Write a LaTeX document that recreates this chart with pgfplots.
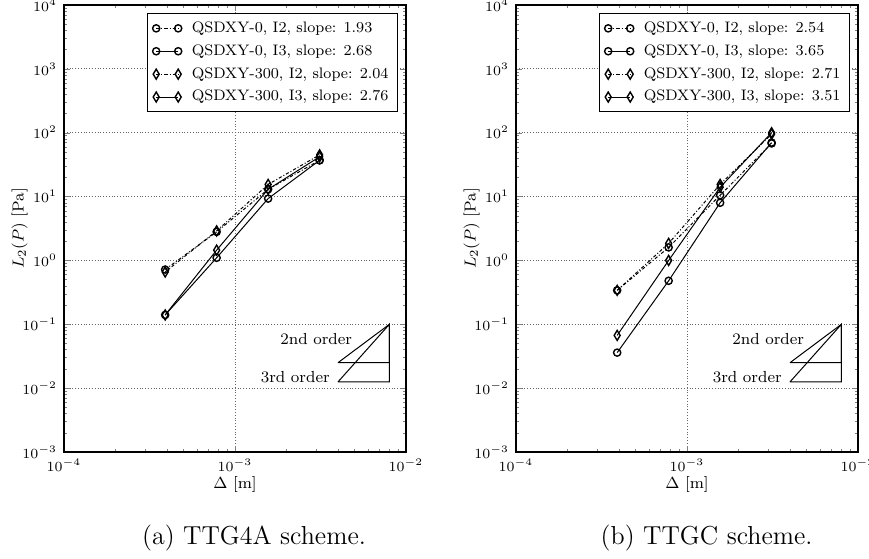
\documentclass[border=0pt]{standalone}
\usepackage{pgfplots}
\pgfplotsset{compat=1.18}

\pgfplotsset{
  legend image code/.code={\draw[mark repeat=2,mark phase=1,#1]
      plot coordinates {(0pt,0pt) (5.5pt,0pt) (11pt,0pt)};},
  conv/.style={
    scale only axis, width=171pt, height=223.5pt,
    xmin=1e-4, xmax=1e-2, ymin=1e-3, ymax=1e4,
    xtick={1e-4,1e-3,1e-2},
    ytick={1e-3,1e-2,1e-1,1,1e1,1e2,1e3,1e4},
    grid=major,
    major grid style={densely dotted, black!60, line width=0.4pt},
    tick align=inside, tick pos=both,
    major tick length=3pt, minor tick length=1.5pt,
    axis line style={line width=0.6pt},
    tick label style={font=\fontsize{7}{8}\selectfont},
    label style={font=\fontsize{8}{9}\selectfont},
    xlabel={$\Delta$ [m]}, ylabel={$L_2(P)$ [Pa]},
    xlabel shift=-4.5pt, ylabel shift=-9.5pt,
    legend cell align=left,
    legend style={at={(1,1)}, anchor=north east, xshift=-4pt, yshift=-4pt,
      font=\fontsize{7.6}{8.5}\selectfont, draw=black, line width=0.5pt,
      row sep=0.6pt, inner xsep=2.5pt, inner ysep=2pt,
      /tikz/every odd column/.append style={column sep=3pt}},
  },
}
\tikzset{
  ci2/.style={black, line width=0.5pt, dash pattern=on 1.6pt off 1pt on 0.5pt off 1pt,
    mark=o, mark size=1.8pt, mark options={solid, fill=white, line width=0.7pt}},
  ci3/.style={black, line width=0.5pt, solid,
    mark=o, mark size=1.8pt, mark options={solid, fill=white, line width=0.7pt}},
  di2/.style={black, line width=0.5pt, dash pattern=on 1.6pt off 1pt on 0.5pt off 1pt,
    mark=diamond, mark size=2.5pt, mark options={solid, fill=white, line width=0.7pt, xscale=0.8}},
  di3/.style={black, line width=0.5pt, solid,
    mark=diamond, mark size=2.5pt, mark options={solid, fill=white, line width=0.7pt, xscale=0.8}},
  tri/.style={black, line width=0.5pt},
}

\begin{document}
\begin{tikzpicture}
% (a) TTG4A
\begin{loglogaxis}[conv, at={(32pt,53pt)}, anchor=south west]
\addplot[ci2] coordinates {(3.90625e-4,0.72) (7.8125e-4,2.8) (1.5625e-3,13.0) (3.125e-3,37)};
\addlegendentry{QSDXY-0, I2, slope: 1.93}
\addplot[ci3] coordinates {(3.90625e-4,0.14) (7.8125e-4,1.1) (1.5625e-3,9.3) (3.125e-3,37)};
\addlegendentry{QSDXY-0, I3, slope: 2.68}
\addplot[di2] coordinates {(3.90625e-4,0.66) (7.8125e-4,2.9) (1.5625e-3,15.5) (3.125e-3,45)};
\addlegendentry{QSDXY-300, I2, slope: 2.04}
\addplot[di3] coordinates {(3.90625e-4,0.14) (7.8125e-4,1.45) (1.5625e-3,13.0) (3.125e-3,42)};
\addlegendentry{QSDXY-300, I3, slope: 2.76}
\addplot[tri, forget plot] coordinates {(4e-3,0.025) (8e-3,0.1) (8e-3,0.025) (4e-3,0.025)};
\addplot[tri, forget plot] coordinates {(4e-3,0.0125) (8e-3,0.1) (8e-3,0.0125) (4e-3,0.0125)};
\node[anchor=east, font=\fontsize{8}{9}\selectfont, inner sep=1pt] at (axis cs:5e-3,0.058) {2nd order};
\node[anchor=east, font=\fontsize{8}{9}\selectfont, inner sep=1pt] at (axis cs:3.7e-3,0.015) {3rd order};
\end{loglogaxis}
% (b) TTGC
\begin{loglogaxis}[conv, at={(258pt,53pt)}, anchor=south west]
\addplot[ci2] coordinates {(3.90625e-4,0.34) (7.8125e-4,1.6) (1.5625e-3,10.5) (3.125e-3,68)};
\addlegendentry{QSDXY-0, I2, slope: 2.54}
\addplot[ci3] coordinates {(3.90625e-4,0.036) (7.8125e-4,0.48) (1.5625e-3,8.0) (3.125e-3,70)};
\addlegendentry{QSDXY-0, I3, slope: 3.65}
\addplot[di2] coordinates {(3.90625e-4,0.34) (7.8125e-4,1.85) (1.5625e-3,15.5) (3.125e-3,95)};
\addlegendentry{QSDXY-300, I2, slope: 2.71}
\addplot[di3] coordinates {(3.90625e-4,0.067) (7.8125e-4,1.0) (1.5625e-3,14.0) (3.125e-3,100)};
\addlegendentry{QSDXY-300, I3, slope: 3.51}
\addplot[tri, forget plot] coordinates {(4e-3,0.025) (8e-3,0.1) (8e-3,0.025) (4e-3,0.025)};
\addplot[tri, forget plot] coordinates {(4e-3,0.0125) (8e-3,0.1) (8e-3,0.0125) (4e-3,0.0125)};
\node[anchor=east, font=\fontsize{8}{9}\selectfont, inner sep=1pt] at (axis cs:5e-3,0.058) {2nd order};
\node[anchor=east, font=\fontsize{8}{9}\selectfont, inner sep=1pt] at (axis cs:3.7e-3,0.015) {3rd order};
\end{loglogaxis}
\node[font=\fontsize{13}{15}\selectfont] at (127pt,10pt) {(a) TTG4A scheme.};
\node[font=\fontsize{13}{15}\selectfont] at (353.3pt,10pt) {(b) TTGC scheme.};
\pgfresetboundingbox
\path[use as bounding box] (0pt,0pt) rectangle (434.5pt,279pt);
\end{tikzpicture}
\end{document}
